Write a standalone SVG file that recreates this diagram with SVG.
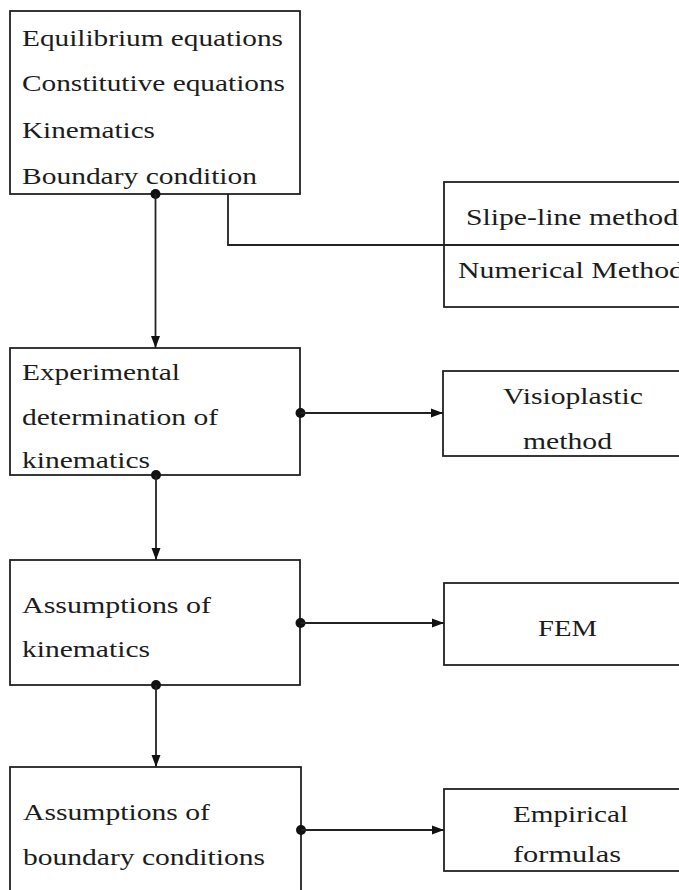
<svg xmlns="http://www.w3.org/2000/svg" width="679" height="890" viewBox="0 0 679 890">
<style>
.box{fill:none;stroke:#222;stroke-width:1.8}
.ln{fill:none;stroke:#222;stroke-width:1.8}
.t{font-family:"Liberation Serif","Times New Roman",serif;font-size:24px;fill:#1c1c1c}
.dot{fill:#111}
</style>
<defs>
<marker id="arr" viewBox="0 0 12 10" refX="12" refY="5" markerWidth="12" markerHeight="10" markerUnits="userSpaceOnUse" orient="auto">
<path d="M0,0.5 L12,5 L0,9.5 Z" fill="#111"/>
</marker>
</defs>
<rect width="679" height="890" fill="#fff"/>

<g id="governing">
<rect class="box" x="10" y="11" width="290" height="183"/>
<text class="t" x="22" y="46" textLength="261" lengthAdjust="spacingAndGlyphs">Equilibrium equations</text>
<text class="t" x="22" y="91" textLength="263" lengthAdjust="spacingAndGlyphs">Constitutive equations</text>
<text class="t" x="22" y="138" textLength="133" lengthAdjust="spacingAndGlyphs">Kinematics</text>
<text class="t" x="22" y="184" textLength="235" lengthAdjust="spacingAndGlyphs">Boundary condition</text>
</g>

<g id="analytical">
<rect class="box" x="444" y="182" width="260" height="125"/>
<line class="ln" x1="444" y1="245" x2="679" y2="245"/>
<text class="t" x="466" y="225" textLength="212" lengthAdjust="spacingAndGlyphs">Slipe-line method</text>
<text class="t" x="458" y="278" textLength="226" lengthAdjust="spacingAndGlyphs">Numerical Method</text>
</g>

<g id="experimental">
<rect class="box" x="10" y="348" width="290" height="127"/>
<text class="t" x="22" y="380" textLength="158" lengthAdjust="spacingAndGlyphs">Experimental</text>
<text class="t" x="22" y="425" textLength="196" lengthAdjust="spacingAndGlyphs">determination of</text>
<text class="t" x="22" y="468" textLength="128" lengthAdjust="spacingAndGlyphs">kinematics</text>
</g>

<g id="visioplastic">
<rect class="box" x="443" y="371" width="260" height="85"/>
<text class="t" x="503" y="404" textLength="140" lengthAdjust="spacingAndGlyphs">Visioplastic</text>
<text class="t" x="523" y="449" textLength="89" lengthAdjust="spacingAndGlyphs">method</text>
</g>

<g id="assume-kinematics">
<rect class="box" x="10" y="560" width="290" height="125"/>
<text class="t" x="22" y="613" textLength="189" lengthAdjust="spacingAndGlyphs">Assumptions of</text>
<text class="t" x="22" y="657" textLength="128" lengthAdjust="spacingAndGlyphs">kinematics</text>
</g>

<g id="fem">
<rect class="box" x="444" y="583" width="260" height="82"/>
<text class="t" x="538" y="636" textLength="59" lengthAdjust="spacingAndGlyphs">FEM</text>
</g>

<g id="assume-boundary">
<rect class="box" x="10" y="767" width="291" height="140"/>
<text class="t" x="23" y="820" textLength="187" lengthAdjust="spacingAndGlyphs">Assumptions of</text>
<text class="t" x="23" y="865" textLength="242" lengthAdjust="spacingAndGlyphs">boundary conditions</text>
</g>

<g id="empirical">
<rect class="box" x="444" y="789" width="260" height="82"/>
<text class="t" x="513" y="822" textLength="115" lengthAdjust="spacingAndGlyphs">Empirical</text>
<text class="t" x="513" y="862" textLength="108" lengthAdjust="spacingAndGlyphs">formulas</text>
</g>

<g id="connectors">
<circle class="dot" cx="155.5" cy="194" r="5"/>
<line class="ln" x1="155.5" y1="194" x2="155.5" y2="348" marker-end="url(#arr)"/>
<path class="ln" d="M228,194 V245 H444"/>
<circle class="dot" cx="300.5" cy="413" r="5"/>
<line class="ln" x1="300.5" y1="413" x2="443" y2="413" marker-end="url(#arr)"/>
<circle class="dot" cx="156" cy="475" r="5"/>
<line class="ln" x1="156" y1="475" x2="156" y2="560" marker-end="url(#arr)"/>
<circle class="dot" cx="300.5" cy="623" r="5"/>
<line class="ln" x1="300.5" y1="623" x2="444" y2="623" marker-end="url(#arr)"/>
<circle class="dot" cx="156" cy="685" r="5"/>
<line class="ln" x1="156" y1="685" x2="156" y2="767" marker-end="url(#arr)"/>
<circle class="dot" cx="301" cy="830" r="5"/>
<line class="ln" x1="301" y1="830" x2="444" y2="830" marker-end="url(#arr)"/>
</g>
</svg>
